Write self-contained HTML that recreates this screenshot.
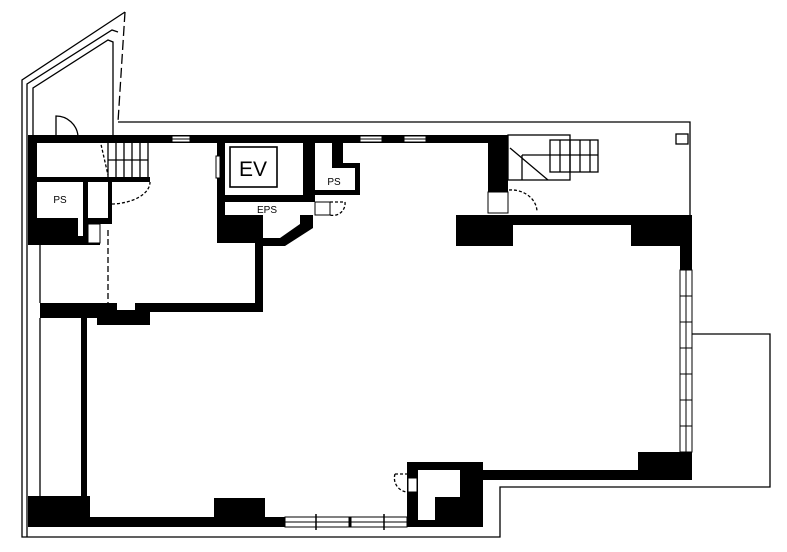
<!DOCTYPE html>
<html><head><meta charset="utf-8"><style>html,body{margin:0;padding:0;background:#fff}svg{display:block}</style></head>
<body>
<svg width="787" height="552" viewBox="0 0 787 552" xmlns="http://www.w3.org/2000/svg">
<rect width="787" height="552" fill="#fff"/>
<g fill="none" stroke="#000" stroke-width="1.3">
<!-- outer site lines -->
<polyline points="22,136 22,80 125,12"/>
<polyline points="27,136 27,84 112,30 118,32"/>
<polyline points="33,136 33,88 108,40 113,42 113,136"/>
<line x1="125" y1="12" x2="118" y2="122" stroke-dasharray="10,4"/>
<polyline points="118,122 690,122 690,334 770,334 770,487 500,487 500,537 22,537 22,136"/>
<line x1="27" y1="136" x2="27" y2="537"/>
<line x1="40" y1="244" x2="40" y2="303"/>
<line x1="40" y1="318" x2="40" y2="497"/>
<rect x="676" y="134" width="12" height="10"/>
<!-- doors -->
<path d="M56 136 V116 A22 22 0 0 1 78 136"/>
<path d="M112 204 A40 22 0 0 0 150 182" stroke-dasharray="3,2"/>
<path d="M509 190 A26 22 0 0 1 537 212" stroke-dasharray="3,2"/>
<path d="M330 202 H345 A12 12 0 0 1 330 215" stroke-dasharray="3,2"/>
<path d="M395 474 H408 M395 474 A14 14 0 0 0 407 492" stroke-dasharray="3,2"/>
<line x1="100" y1="140" x2="108" y2="175" stroke-dasharray="3,2"/>
<line x1="108" y1="230" x2="108" y2="305" stroke-dasharray="6,3"/>
<!-- stairs left -->
<rect x="108" y="142" width="40" height="36"/>
<line x1="108" y1="160" x2="148" y2="160"/>
<line x1="116" y1="142" x2="116" y2="178"/><line x1="124" y1="142" x2="124" y2="178"/><line x1="132" y1="142" x2="132" y2="178"/><line x1="140" y1="142" x2="140" y2="178"/>
<!-- stairs right -->
<rect x="508" y="135" width="62" height="45"/>
<line x1="510" y1="148" x2="548" y2="180"/>
<rect x="550" y="140" width="48" height="32"/>
<line x1="522" y1="155" x2="598" y2="155"/>
<line x1="522" y1="155" x2="522" y2="180"/>
<line x1="560" y1="140" x2="560" y2="172"/><line x1="570" y1="140" x2="570" y2="172"/><line x1="580" y1="140" x2="580" y2="172"/><line x1="590" y1="140" x2="590" y2="172"/>
<!-- EV -->
<rect x="230" y="147" width="47" height="40" stroke-width="1.6"/>
<!-- left inner line -->
<line x1="84" y1="318" x2="84" y2="497" stroke-width="2"/>
</g>
<g fill="#000">
<!-- top wall -->
<rect x="28" y="135" width="480" height="8"/>
<rect x="28" y="135" width="9" height="110"/>
<rect x="37" y="177" width="113" height="5"/>
<rect x="83" y="182" width="5" height="56"/>
<rect x="88" y="218" width="24" height="6"/>
<rect x="108" y="182" width="4" height="40"/>
<rect x="28" y="218" width="50" height="27"/>
<rect x="28" y="236" width="72" height="9"/>
<!-- left upper room bottom -->
<rect x="40" y="303" width="68" height="15"/>
<rect x="97" y="303" width="20" height="22"/>
<rect x="117" y="310" width="33" height="15"/>
<rect x="135" y="303" width="128" height="9"/>
<rect x="255" y="240" width="8" height="72"/>
<!-- EV area -->
<rect x="217" y="143" width="8" height="72"/>
<rect x="217" y="215" width="46" height="28"/>
<rect x="303" y="143" width="12" height="59"/>
<rect x="225" y="195" width="90" height="7"/>
<polygon points="300,215 313,215 313,228 285,246 263,246 263,238 280,238 300,224"/>
<!-- PS2 -->
<polygon points="332,143 343,143 343,163 360,163 360,195 315,195 315,190 355,190 355,168 332,168"/>
<!-- right upper -->
<rect x="488" y="135" width="20" height="57"/>
<rect x="456" y="215" width="236" height="10"/>
<rect x="456" y="215" width="57" height="31"/>
<rect x="631" y="215" width="61" height="31"/>
<rect x="680" y="215" width="12" height="265"/>
<rect x="638" y="452" width="52" height="28"/>
<rect x="483" y="470" width="207" height="10"/>
<!-- small room -->
<rect x="407" y="462" width="76" height="65"/>
<!-- bottom wall -->
<rect x="28" y="517" width="380" height="10"/>
<rect x="28" y="496" width="62" height="31"/>
<rect x="214" y="498" width="51" height="29"/>
<rect x="81" y="318" width="6" height="180"/>
</g>
<g fill="#fff" stroke="#000" stroke-width="1">
<rect x="418" y="470" width="42" height="50" stroke="none"/>
<rect x="408" y="478" width="9" height="14"/>
<rect x="88" y="224" width="12" height="19"/>
<rect x="488" y="192" width="20" height="21"/>
<rect x="315" y="202" width="15" height="13"/>
<rect x="285" y="517" width="122" height="10"/>
<rect x="680" y="270" width="12" height="182"/>
<rect x="172" y="136" width="18" height="6"/><rect x="360" y="136" width="22" height="6"/><rect x="404" y="136" width="22" height="6"/>
<rect x="216" y="156" width="4" height="22"/>
</g>
<g fill="#000" stroke="none">
<rect x="435" y="497" width="25" height="23"/>
</g>
<g stroke="#000" stroke-width="1">
<line x1="285" y1="522" x2="407" y2="522"/>
<line x1="316" y1="514" x2="316" y2="530" stroke-width="1.5"/><line x1="350" y1="517" x2="350" y2="527" stroke-width="3"/><line x1="384" y1="514" x2="384" y2="530" stroke-width="1.5"/>
<line x1="686" y1="270" x2="686" y2="452"/>
<line x1="680" y1="296" x2="692" y2="296"/><line x1="680" y1="322" x2="692" y2="322"/><line x1="680" y1="348" x2="692" y2="348"/><line x1="680" y1="374" x2="692" y2="374"/><line x1="680" y1="400" x2="692" y2="400"/><line x1="680" y1="426" x2="692" y2="426"/>
<line x1="172" y1="139" x2="190" y2="139"/><line x1="360" y1="139" x2="382" y2="139"/><line x1="404" y1="139" x2="426" y2="139"/>
</g>
<g font-family="Liberation Sans, sans-serif" fill="#000">
<text x="253" y="176" font-size="21" text-anchor="middle">EV</text>
<text x="60" y="203" font-size="10" text-anchor="middle">PS</text>
<text x="334" y="185" font-size="10" text-anchor="middle">PS</text>
<text x="267" y="213" font-size="10" text-anchor="middle">EPS</text>
</g>
</svg>
</body></html>
